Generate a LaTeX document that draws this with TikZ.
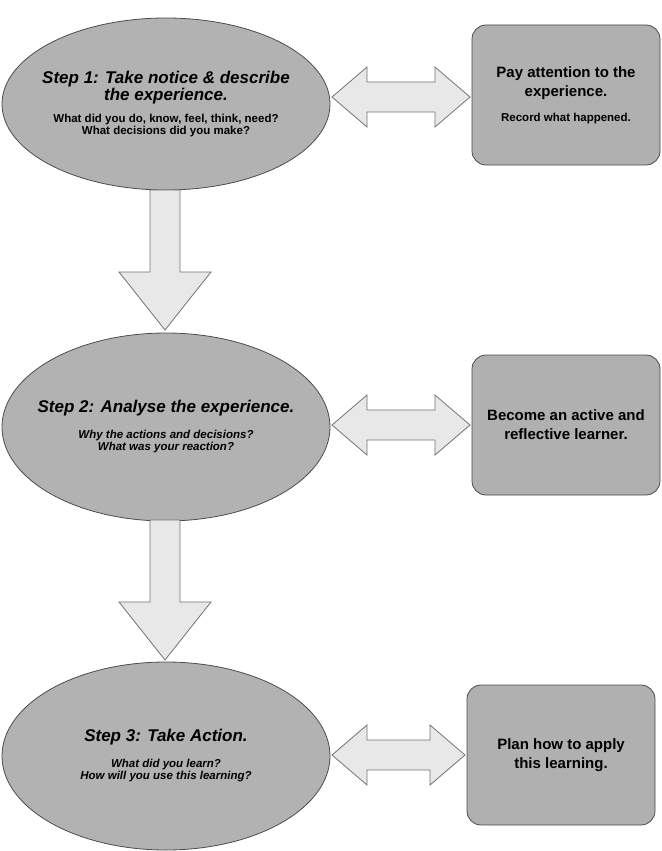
\documentclass[tikz,border=0pt]{standalone}
\usepackage{fontspec}
\setmainfont{Liberation Sans}
\usetikzlibrary{positioning,shapes.geometric}
\begin{document}
\begin{tikzpicture}[x=1pt,y=-1pt]
  \tikzstyle{stage}=[ellipse,draw=black!70,fill=black!30,line width=0.8pt,minimum width=328pt,inner xsep=-60pt,inner ysep=-30pt,align=center,font=\bfseries]
  \tikzstyle{note}=[rectangle,rounded corners=14pt,draw=black!70,fill=black!31,line width=0.8pt,minimum width=188pt,minimum height=140pt,align=center,font=\bfseries\fontsize{15}{19}\selectfont]
  \tikzstyle{arrow}=[draw=black!55,fill=black!9,line width=0.8pt]
  \useasboundingbox (0,0) rectangle (661,851);
  \node[stage,minimum height=172pt] (S_1) at (166,104) {\fontsize{17}{21}\selectfont\itshape Step 1: Take notice \& describe\\\fontsize{17}{21}\selectfont\itshape the experience.\\[10pt]
    \fontsize{11.5}{15}\selectfont What did you do, know, feel, think, need?\\\fontsize{11.5}{15}\selectfont What decisions did you make?};
  \node[stage,minimum height=188pt] (S_2) at (166,427) {\fontsize{17}{21}\selectfont\itshape Step 2: Analyse the experience.\\[14pt]
    \fontsize{11.5}{15}\selectfont\itshape Why the actions and decisions?\\\fontsize{11.5}{15}\selectfont\itshape What was your reaction?};
  \node[stage,minimum height=188pt] (S_3) at (166,756) {\fontsize{17}{21}\selectfont\itshape Step 3: Take Action.\\[14pt]
    \fontsize{11.5}{15}\selectfont\itshape What did you learn?\\\fontsize{11.5}{15}\selectfont\itshape How will you use this learning?};
  \node[note] (N_1) at (566,95) {Pay attention to the\\experience.\\[6pt]{\fontsize{11.5}{14}\selectfont Record what happened.}};
  \node[note] (N_2) at (566,425) {Become an active and\\reflective learner.};
  \node[note] (N_3) at (561,755) {Plan how to apply\\this learning.};
  % double arrows
  \foreach \y/\a/\b in {97/332/470,425/332/470,755/332/465}{
    \draw[arrow] (\a,\y) -- (\a+35,\y-30) -- (\a+35,\y-15) -- (\b-35,\y-15) -- (\b-35,\y-30) -- (\b,\y)
      -- (\b-35,\y+30) -- (\b-35,\y+15) -- (\a+35,\y+15) -- (\a+35,\y+30) -- cycle;
  }
  % down arrows
  \foreach \t/\e in {190/330,520/660}{
    \draw[arrow] (150,\t) -- (180,\t) -- (180,\e-58) -- (211,\e-58) -- (165,\e) -- (119,\e-58) -- (150,\e-58) -- cycle;
  }
\end{tikzpicture}
\end{document}
